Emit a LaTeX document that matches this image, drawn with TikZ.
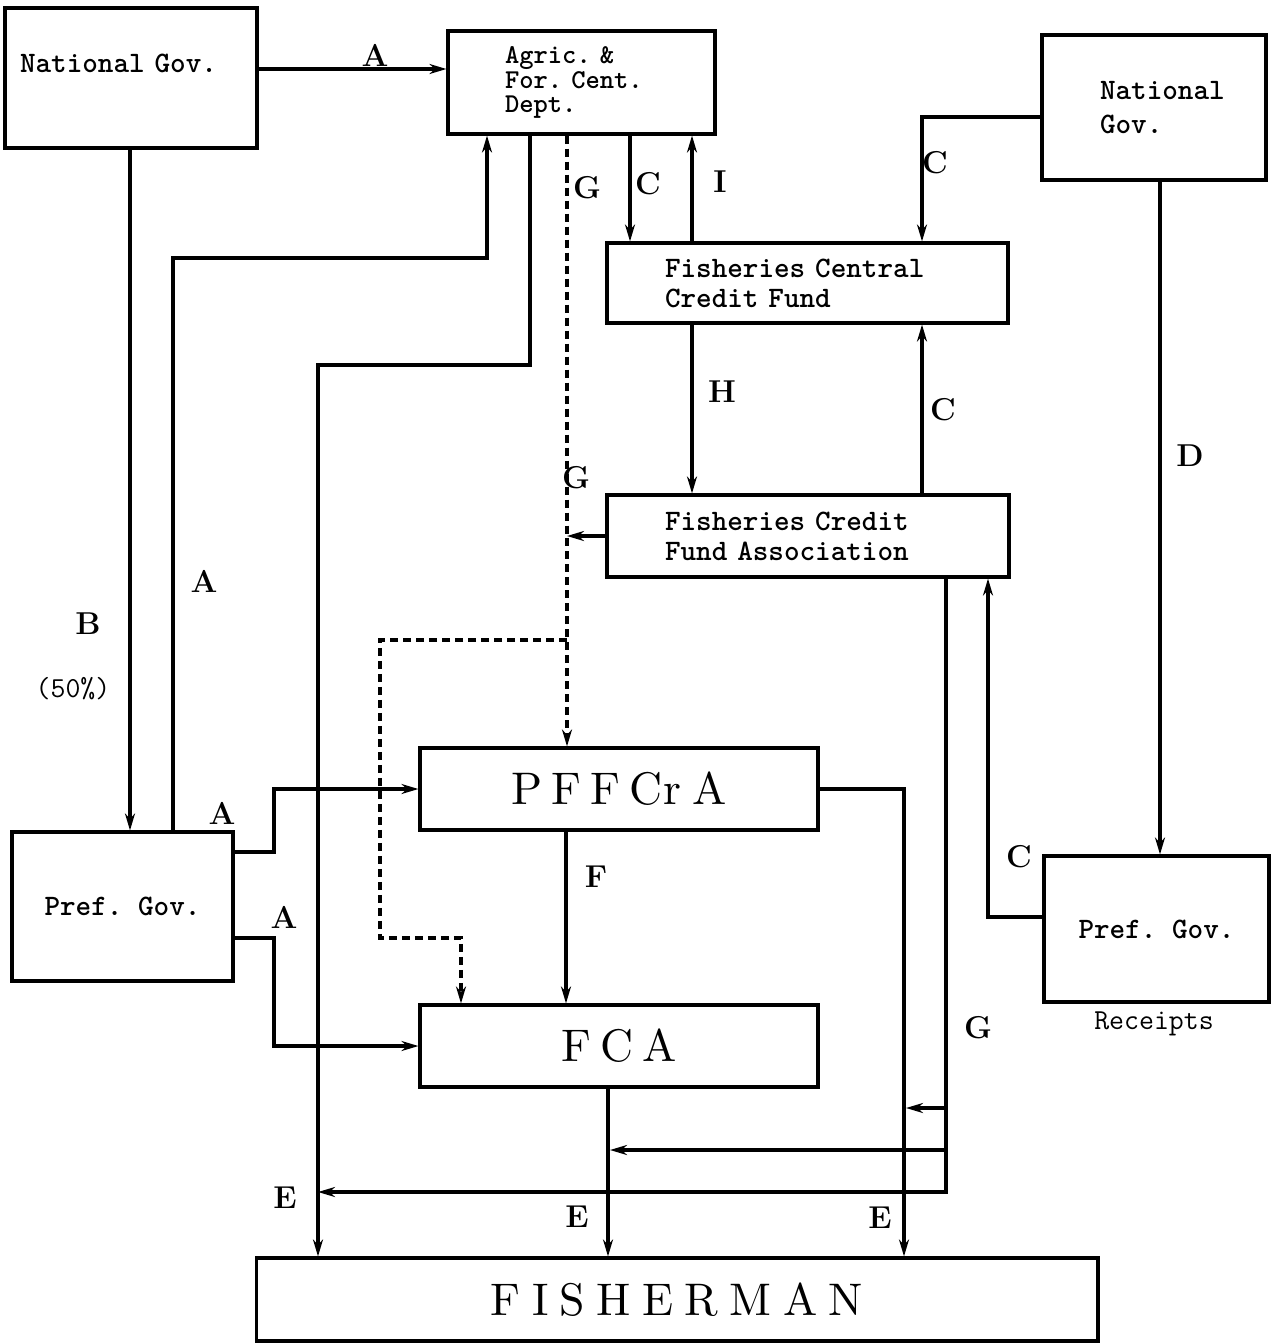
\documentclass[tikz,border=0pt]{standalone}
\usepackage{fontspec}
\newfontfamily\bigserif{lmroman10-regular}[Extension=.otf]
\usetikzlibrary{arrows.meta,positioning}
\frenchspacing

\begin{document}
\begin{tikzpicture}[
  x=0.02cm, y=-0.02cm,
  line width=1.8pt,
  box/.style={draw, inner ysep=0pt, align=left,
              font=\ttfamily\bfseries\fontsize{16.9}{17}\selectfont},
  big/.style={draw, minimum width=7.96cm, minimum height=1.64cm,
              font=\bigserif\fontsize{26}{30}\selectfont},
  lbl/.style={font=\bfseries\fontsize{18}{18}\selectfont},
  note/.style={font=\ttfamily\fontsize{16.5}{17}\selectfont},
  fl/.style={-{Stealth[length=3.4mm,width=2mm]}},
  gl/.style={dash pattern=on 1.6mm off 1mm}
]
\useasboundingbox (0,0) rectangle (1275,1343);

\node[box, minimum width=5.04cm, minimum height=2.8cm, inner xsep=0.3cm,
      text width=4.44cm, text depth=0.6cm] (ng1) at (131,78) {National Gov.};
\node[box, minimum width=5.34cm, minimum height=2.06cm, inner xsep=1.14cm,
      text width=3.06cm, font=\ttfamily\bfseries\fontsize{15.5}{14.2}\selectfont]
  (afd) at (581.5,82.5) {Agric. \&\\For. Cent.\\Dept.};
\node[box, minimum width=4.48cm, minimum height=2.9cm, inner xsep=1.16cm,
      text width=2.16cm, font=\ttfamily\bfseries\fontsize{16.9}{19.3}\selectfont]
  (ng2) at (1154,107.5) {National\\Gov.};
\node[box, minimum width=8.02cm, minimum height=1.6cm, inner xsep=1.16cm,
      text width=5.7cm] (fccf) at (807.5,283) {Fisheries Central\\Credit Fund};
\node[box, minimum width=8.04cm, minimum height=1.64cm, inner xsep=1.16cm,
      text width=5.72cm] (fcfa) at (808,536) {Fisheries Credit\\Fund Association};
\node[box, minimum width=4.42cm, minimum height=2.98cm, align=center]
  (prefl) at (122.5,906.5) {Pref. Gov.};
\node[box, minimum width=4.5cm, minimum height=2.92cm, align=center]
  (prefr) at (1156.5,929) {Pref. Gov.};
\node[big] (pffcra) at (619,789) {P\kern.2em F\kern.2em F\kern.2em C\kern.02em r\kern.25em A};
\node[big] (fca) at (619,1046) {F\kern.2em C\kern.2em A};
\node[big, minimum width=16.84cm, minimum height=1.66cm] (fish) at (677,1299.5)
  {F\kern.25em I\kern.25em S\kern.25em H\kern.25em E\kern.25em R\kern.25em M\kern.25em A\kern.25em N};
\node[note] (rcp) at (1154,1024) {Receipts};

\coordinate (gsplit) at (567,640);
\coordinate (gbr1) at (946,1108);
\coordinate (gbr2) at (946,1150);
\coordinate (gend) at (318,1192);

\foreach \a/\b/\xx in {afd.south/fccf.north/630, fccf.north/afd.south/692,
    fccf.south/fcfa.north/692, fcfa.north/fccf.south/922,
    ng2.south/prefr.north/1160, pffcra.south/fca.north/566,
    fca.south/fish.north/608, ng1.south/prefl.north/130}
  \draw[fl] (\a -| \xx,0) -- (\b -| \xx,0);

\draw[fl] (ng1.east |- 0,69) -- (afd.west |- 0,69);
\draw[fl] (prefl.north -| 173,0) -- (173,258) -| (afd.south -| 487,0);
\draw[fl] (afd.south -| 530,0) -- (530,365) -| (fish.north -| 318,0);
\draw[fl] (ng2.west |- 0,117) -| (fccf.north -| 922,0);
\draw[fl] (prefr.west |- 0,917) -| (fcfa.south -| 988,0);
\draw[fl] (prefl.east |- 0,852) -| (274,789) -- (pffcra.west);
\draw[fl] (prefl.east |- 0,938) -| (274,1046) -- (fca.west);
\draw[fl] (pffcra.east) -| (fish.north -| 904,0);

\draw[fl, gl] (afd.south -| gsplit) -- (pffcra.north -| gsplit);
\draw[fl, gl] (gsplit) -| (380,938) -| (fca.north -| 461,0);
\draw[fl] (fcfa.west) -- (fcfa.west -| gsplit);

\draw[fl] (fcfa.south -| gbr1) |- (gend);
\draw[fl] (gbr1) -- (906,1108);
\draw[fl] (gbr2) -- (610,1150);

\foreach \n/\t/\xx/\yy in {la1/A/375/55, la2/A/204/581, la3/A/222/813,
    la4/A/284/917, lb/B/88/624, lc1/C/648/184, lc2/C/935/163, lc3/C/943/410,
    lc4/C/1019/857, ld/D/1190/456, le1/E/285/1198, le2/E/577/1217,
    le3/E/880/1218, lf/F/596/877, lg1/G/587/188, lg2/G/576/478,
    lg3/G/978/1028, lh/H/722/392, li/I/720/182}
  \node[lbl] (\n) at (\xx,\yy) {\t};
\node[note] (pct) at (73,689) {(50\%)};
\end{tikzpicture}
\end{document}
